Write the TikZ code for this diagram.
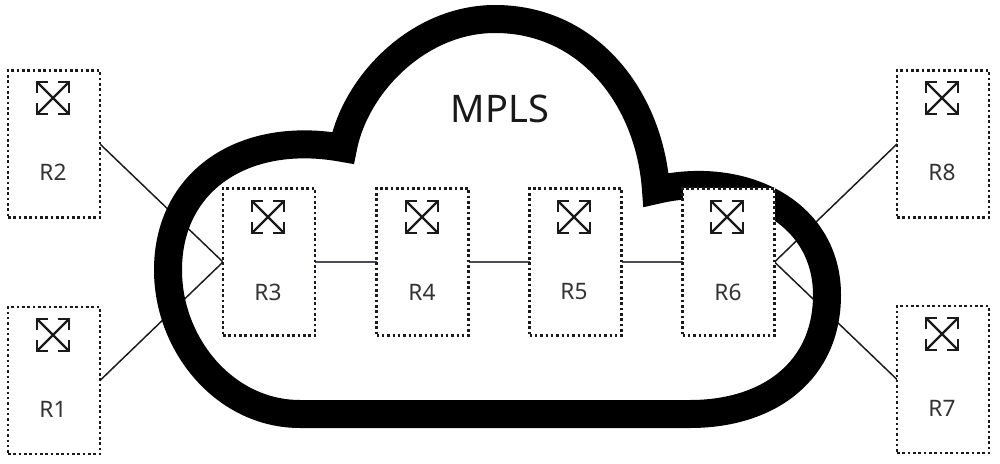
\documentclass[tikz,border=0pt]{standalone}
\usepackage{fontspec}
\setmainfont{Noto Sans}
\usetikzlibrary{backgrounds}
\definecolor{inkc}{HTML}{1A1A1A}
\definecolor{corec}{HTML}{4A4A60}
\tikzset{
  routerbox/.style={draw=inkc,fill=white,line width=1.9pt,dash pattern=on 1.9pt off 2.1pt,minimum width=69pt,minimum height=110.5pt,inner sep=0pt,outer sep=0pt},
  routerlabel/.style={font=\fontsize{17pt}{17pt}\selectfont,text=black!80,inner sep=0pt},
  link/.style={draw=inkc,line width=1.1pt},
  corelink/.style={draw=corec,line width=1.2pt},
  cloudband/.style={draw=black,line width=21pt,miter limit=10,line join=miter},
  pics/xicon/.style={code={
    \draw[inkc,line width=1.8pt] (-16,-16)--(16,16) (-16,16)--(16,-16);
    \draw[inkc,line width=2pt,line join=miter]
      (-16,-5)--(-16,-16)--(-5,-16)
      (16,-5)--(16,-16)--(5,-16)
      (-16,5)--(-16,16)--(-5,16)
      (16,5)--(16,16)--(5,16);
  }}
}
\begin{document}
\begin{tikzpicture}[x=0.75pt,y=-0.75pt]
\useasboundingbox (0,0) rectangle (1000,464);
% routers
\node[routerbox] (r2) at (54,144) {};
\node[routerbox] (r1) at (54,380.5) {};
\node[routerbox] (r3) at (269,262) {};
\node[routerbox] (r4) at (422.5,262) {};
\node[routerbox] (r5) at (575.5,262) {};
\node[routerbox] (r6) at (728.5,262) {};
\node[routerbox] (r8) at (943,144) {};
\node[routerbox] (r7) at (943,379.5) {};
\foreach \px/\py in {53/98,53/335,268/217,422/217,574/217,727/217,942/98,942/334}
  \pic at (\px,\py) {xicon};
\node[routerlabel] (l2) at (53,172) {R2};
\node[routerlabel] (l1) at (53,409) {R1};
\node[routerlabel] (l3) at (268,292) {R3};
\node[routerlabel] (l4) at (422,292) {R4};
\node[routerlabel] (l5) at (574,292) {R5};
\node[routerlabel] (l6) at (728,292) {R6};
\node[routerlabel] (l8) at (942,172) {R8};
\node[routerlabel] (l7) at (942,408) {R7};
\node[font=\fontsize{28.5pt}{28.5pt}\selectfont,text=black!90,inner sep=0pt] (mpls) at (500,109) {MPLS};
\begin{scope}[on background layer]
  \draw[link] (r2.east) -- (r3.west);
  \draw[link] (r1.east) -- (r3.west);
  \draw[link] (r6.east) -- (r8.west);
  \draw[link] (r6.east) -- (r7.west);
  \draw[corelink] (r3.east) -- (r4.west);
  \draw[corelink] (r4.east) -- (r5.west);
  \draw[corelink] (r5.east) -- (r6.west);
  % cloud band
  \draw[cloudband] (343,148)
    .. controls (355,85) and (418,19) .. (495,19)
    .. controls (590,19) and (650,100) .. (656,190)
    .. controls (740,170) and (827,210) .. (827,295)
    .. controls (827,370) and (770,414) .. (690,414)
    -- (300,414)
    .. controls (225,414) and (168,345) .. (168,270)
    .. controls (168,180) and (245,130) .. cycle;
\end{scope}
\end{tikzpicture}
\end{document}
